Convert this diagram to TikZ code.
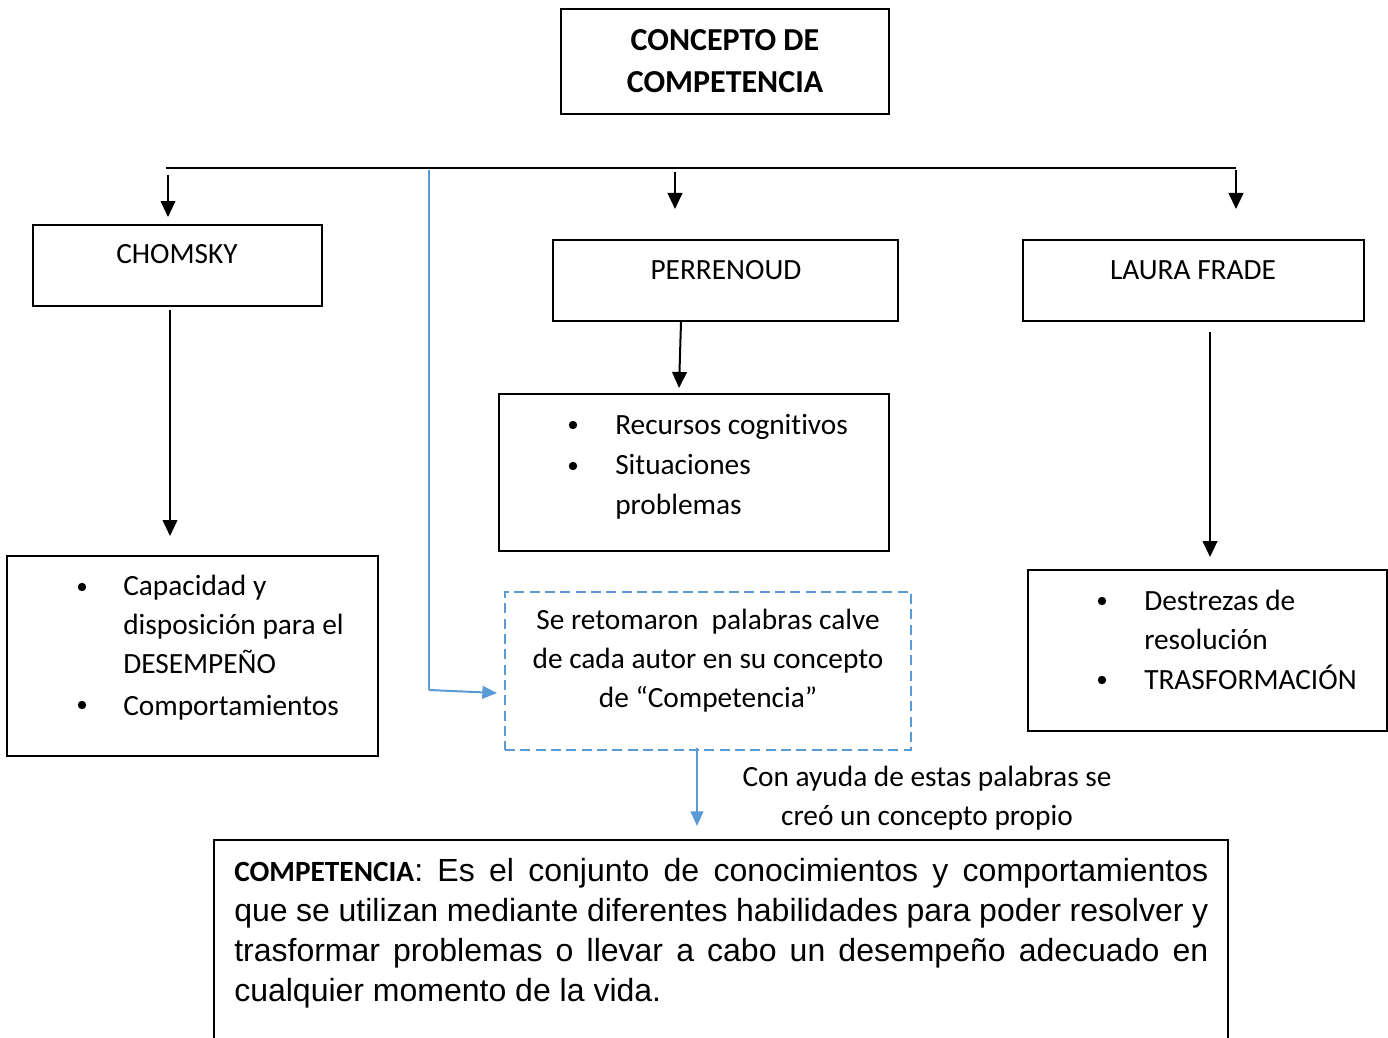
\documentclass[tikz,border=0pt]{standalone}
\usepackage{fontspec}
\setmainfont{Carlito}[Ligatures=NoCommon]
\newfontfamily\arialf{Liberation Sans}
\usetikzlibrary{fit,arrows.meta}
\definecolor{blue1}{RGB}{91,155,213}
\begin{document}
\begin{tikzpicture}[x=0.75pt,y=-0.75pt,
  frame/.style={draw=black, line width=1.5pt, inner sep=0pt},
  conn/.style={draw=black, line width=1.5pt, -{Triangle[length=12pt,width=11pt]}},
  bconn/.style={draw=blue1, line width=1.5pt, -{Triangle[length=11pt,width=9.5pt]}},
  txt/.style={inner sep=0pt, font=\fontsize{22}{29.5}\selectfont},
  dotb/.style={fill=black}
]
\useasboundingbox (0,0) rectangle (1388,1038);
\clip (0,0) rectangle (1388,1038);

% title
\node[frame, fit={(561,9)(889,114)}] (title) {};
\node[inner sep=0pt, align=center, font=\bfseries\fontsize{24}{32}\selectfont] (titletxt) at (725,61) {CONCEPTO DE\\COMPETENCIA};

% top bar
\coordinate (hl) at (166,168);
\coordinate (hr) at (1236,168);
\draw[line width=1pt] (hl) -- (hr);

% author boxes
\node[frame, fit={(33,225)(322,306)}] (chomsky) {};
\node[txt] (chomskytxt) at (177,254) {CHOMSKY};
\node[frame, fit={(553,240)(898,321)}] (perrenoud) {};
\node[txt] (perrenoudtxt) at (726,270) {PERRENOUD};
\node[frame, fit={(1023,240)(1364,321)}] (laura) {};
\node[txt] (lauratxt) at (1193,270) {LAURA FRADE};

% arrows from bar
\coordinate (a1s) at (168,175); \coordinate (a1e) at (168,217);
\coordinate (a2s) at (675,172); \coordinate (a2e) at (675,209);
\coordinate (a3s) at (1236,170); \coordinate (a3e) at (1236,209);
\draw[conn] (a1s) -- (a1e);
\draw[conn] (a2s) -- (a2e);
\draw[conn] (a3s) -- (a3e);

% list boxes
\node[frame, fit={(7,556)(378,756)}] (chlist) {};
\node[frame, fit={(499,394)(889,551)}] (pelist) {};
\node[frame, fit={(1028,570)(1387,731)}] (lalist) {};

\node[txt, anchor=base west, align=left] (chlisttxt) at (123,715)
  {Capacidad y\\disposición para el\\DESEMPEÑO\\[1.5pt]Comportamientos};
\fill[dotb] (82,587) circle (4.2);
\fill[dotb] (82,705) circle (4.2);

\node[txt, anchor=base west, align=left, font=\fontsize{22}{30}\selectfont] (pelisttxt) at (615,514)
  {Recursos cognitivos\\Situaciones\\problemas};
\fill[dotb] (573,425) circle (4.2);
\fill[dotb] (573,466) circle (4.2);

\node[txt, anchor=base west, align=left, font=\fontsize{22}{29.5}\selectfont] (lalisttxt) at (1144,689)
  {Destrezas de\\resolución\\TRASFORMACIÓN};
\fill[dotb] (1102,601) circle (4.2);
\fill[dotb] (1102,680) circle (4.2);

% arrows to lists
\coordinate (c1s) at (170,310); \coordinate (c1e) at (170,536);
\coordinate (c2s) at (681,322); \coordinate (c2e) at (679,388);
\coordinate (c3s) at (1210,332); \coordinate (c3e) at (1210,557);
\draw[conn] (c1s) -- (c1e);
\draw[conn] (c2s) -- (c2e);
\draw[conn] (c3s) -- (c3e);

% dashed box
\node[draw=blue1, line width=1.1pt, dash pattern=on 7.5pt off 4pt, inner sep=0pt, fit={(505,592)(911,750)}] (keys) {};
\node[txt, anchor=base, align=center, font=\fontsize{22}{29}\selectfont] (keystxt) at (708,707)
  {Se retomaron\ \ palabras calve\\de cada autor en su concepto\\de “Competencia”};

% blue connector into dashed box
\coordinate (bt) at (429,170);
\coordinate (bc) at (429,690);
\coordinate (ba) at (497,693);
\draw[blue1, line width=1pt] (bt) -- (bc);
\draw[bconn] (bc) -- (ba);

% blue arrow down
\coordinate (ds) at (697,748);
\coordinate (de) at (697,826);
\draw[bconn] (ds) -- (de);
\node[txt, anchor=base, align=center, font=\fontsize{22}{29}\selectfont] (helptxt) at (927,825)
  {Con ayuda de estas palabras se\\creó un concepto propio};

% definition box
\node[frame, fit={(214,840)(1228,1070)}] (defbox) {};
\node[inner sep=0pt, anchor=north west, text width=730.5pt, align=justify,
      font=\arialf\fontsize{24}{30}\selectfont] (deftxt) at (234,858)
  {{\rmfamily\bfseries\fontsize{22}{30}\selectfont COMPETENCIA}: Es el conjunto de conocimientos y comportamientos\linebreak que se utilizan mediante diferentes habilidades para poder resolver y\linebreak trasformar problemas o llevar a cabo un desempeño adecuado en\linebreak cualquier momento de la vida.};
\end{tikzpicture}
\end{document}
